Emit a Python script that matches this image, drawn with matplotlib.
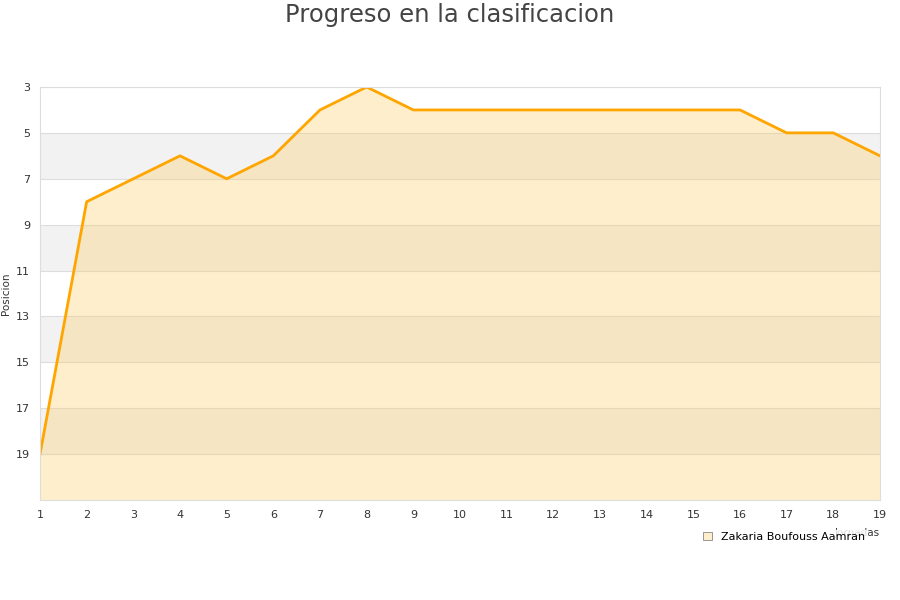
import matplotlib.pyplot as plt
import numpy as np
from matplotlib.patches import Patch

jornadas = list(range(1, 20))
posicion = [19, 8, 7, 6, 7, 6, 4, 3, 4, 4, 4, 4, 4, 4, 4, 4, 5, 5, 6]
jugador = "Zakaria Boufouss Aamran"

fig = plt.figure(figsize=(9, 6), dpi=100)
ax = fig.add_axes([40/900, 100/600, 840/900, 413/600])

# alternating bands
for y0 in [5, 9, 13, 17]:
    ax.axhspan(y0, y0 + 2, color='#f2f2f2', zorder=0, lw=0)
for y in range(3, 21, 2):
    ax.axhline(y, color='#dddddd', lw=0.8, zorder=0.5)

ax.fill_between(jornadas, posicion, 21, color='#ffcc66', alpha=0.33, lw=0, zorder=1)
ax.plot(jornadas, posicion, color='#ffa500', lw=2.0, zorder=2)

ax.set_xlim(1, 19)
ax.set_ylim(21, 3)
ax.set_xticks(jornadas)
ax.set_yticks(range(3, 21, 2))
ax.tick_params(length=0, labelsize=8, colors='#333333', pad=7)
for s in ax.spines.values():
    s.set_color('#dddddd')

ax.set_ylabel("Posicion", fontsize=7.5, color='#333333', labelpad=4)
ax.set_xlabel("Jornadas", fontsize=7.5, color='#333333', loc='right', labelpad=6)

fig.suptitle("Progreso en la clasificacion", fontsize=17.5, color='#444444', y=0.995)

leg = ax.legend(handles=[Patch(facecolor='#ffeecc', edgecolor='#888888', lw=0.6, label=jugador)],
                loc='upper right', bbox_to_anchor=(0.985, -0.072), frameon=True, fontsize=8,
                handlelength=0.8, handleheight=0.8, borderaxespad=0, borderpad=0.2)
leg.get_frame().set_facecolor('white')
leg.get_frame().set_edgecolor('white')
leg.set_zorder(5)

fig.savefig("out.png")
